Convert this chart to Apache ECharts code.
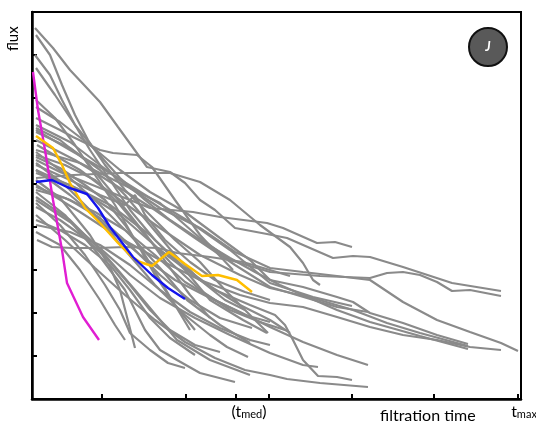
<!DOCTYPE html>
<html>
<head>
<meta charset="utf-8">
<script src="https://cdn.jsdelivr.net/npm/echarts@6/dist/echarts.min.js"></script>
<style>
  html, body { margin: 0; padding: 0; background: #fff; }
  #chart { width: 536px; height: 424px; }
</style>
</head>
<body>
<div id="chart"></div>
<script>
// filtration runs, [time, flux] in arbitrary units (time 0..489, flux 0..387)
const grayRuns = [
  [[3,371],[21,351],[38,329],[68,297],[86,272],[115,232],[138,227],[153,216],[168,199],[183,189],[203,171],[235,165],[255,161],[301,141],[321,143],[338,142],[371,132],[420,116],[469,108]],
  [[4,364],[18,344],[30,314],[43,284],[56,259],[73,234],[93,209],[118,184],[143,159],[168,137],[193,109],[218,84],[236,66]],
  [[3,344],[18,324],[30,299],[43,274],[58,249],[78,219],[98,189],[123,159],[153,131],[183,109],[218,94],[243,84],[253,74],[261,59],[271,39],[286,23],[305,22],[320,19]],
  [[4,331],[23,304],[43,274],[63,249],[88,221],[113,199],[138,179],[168,159],[198,141],[223,127],[248,114],[305,89],[338,77],[388,63],[436,50]],
  [[4,292],[28,277],[58,254],[88,229],[118,207],[153,187],[188,161],[218,139],[238,119],[271,112],[305,102],[321,97],[338,86],[371,76],[405,64],[436,55]],
  [[4,249],[48,236],[88,216],[128,196],[168,161],[198,139],[238,127],[288,123],[338,121],[355,126],[371,127],[388,124],[405,117],[420,108],[438,109],[469,103]],
  [[4,239],[28,227],[68,211],[98,199],[118,191],[161,187],[188,182],[235,176],[251,171],[285,156],[303,157],[320,152]],
  [[4,274],[38,257],[68,234],[98,211],[128,191],[168,171],[203,147],[238,131],[271,127],[305,123],[338,119],[371,97],[405,79],[438,67],[469,56],[486,48]],
  [[4,214],[48,187],[88,161],[128,139],[168,119],[208,104],[238,96],[271,92],[305,82],[338,72],[371,64],[405,59],[438,52],[469,49]],
  [[4,269],[38,249],[78,226],[118,201],[158,177],[198,149],[238,116],[281,102],[320,93]],
  [[4,259],[43,239],[83,214],[123,189],[163,161],[203,134],[238,112],[305,92],[336,87]],
  [[5,254],[48,229],[88,199],[128,171],[168,144],[208,124],[238,111],[281,101],[321,89],[355,76],[388,66],[436,53]],
  [[4,229],[38,204],[73,174],[108,144],[143,119],[178,101],[208,87],[238,72],[271,57],[305,44],[336,34]],
  [[4,199],[38,177],[68,151],[98,124],[128,101],[163,81],[198,64],[238,46],[271,34],[286,32]],
  [[4,184],[33,159],[63,131],[93,104],[123,79],[153,57],[183,41],[213,29],[238,24],[255,20],[288,16],[336,12]],
  [[5,159],[20,152],[40,151],[66,151],[93,152],[126,151],[145,146],[178,142],[211,137],[258,123]],
  [[4,196],[28,174],[53,144],[73,114],[88,89],[98,66],[118,49],[136,36],[153,31]],
  [[4,219],[28,201],[58,164],[78,132],[88,109],[95,82],[103,51]],
  [[4,207],[33,184],[63,149],[93,109],[113,69],[128,49],[145,39],[168,26],[203,17]],
  [[4,202],[38,179],[73,144],[103,109],[128,79],[145,59],[178,39],[218,24]],
  [[4,247],[38,221],[68,194],[98,164],[128,131],[155,99],[188,74],[218,56]],
  [[4,236],[33,214],[63,184],[93,149],[123,114],[153,84],[178,64],[195,52],[216,42]],
  [[4,212],[38,199],[68,181],[98,154],[128,124],[158,99],[188,81],[220,71]],
  [[4,226],[38,214],[78,194],[118,164],[153,129],[178,99],[211,79],[235,66]],
  [[4,281],[28,269],[41,262],[68,249],[81,246],[105,244],[120,232],[143,199],[168,164],[201,129]],
  [[4,221],[41,224],[88,226],[138,226],[168,217],[198,199],[228,174],[258,152],[271,136],[281,119],[288,114]],
  [[4,299],[23,281],[43,254],[63,224],[83,194],[103,159],[123,124],[143,94],[163,69]],
  [[4,271],[28,259],[53,239],[78,209],[98,184],[118,159],[138,131],[158,104],[178,81]],
  [[4,267],[38,251],[68,229],[93,204],[118,174],[143,144],[168,119],[193,99],[213,89]],
  [[4,244],[33,234],[63,219],[88,194],[113,164],[138,137],[168,109],[198,89],[228,77],[253,69]],
  [[4,242],[28,231],[53,214],[73,199],[93,174],[113,144],[128,119],[143,94],[158,69]],
  [[4,234],[38,219],[68,204],[93,194],[103,204],[113,184],[133,159],[158,137],[183,119],[213,107],[238,99]],
  [[4,209],[33,201],[63,187],[93,169],[123,144],[153,117],[183,99],[213,84],[238,77]],
  [[4,192],[28,179],[53,161],[78,137],[98,114],[118,89],[138,69],[163,54],[188,47]],
  [[4,179],[28,169],[53,154],[78,134],[98,109],[118,81],[138,61],[163,44]],
  [[4,174],[38,167],[68,154],[98,134],[128,109],[158,87],[188,71],[218,59],[238,54]],
  [[4,167],[28,154],[48,129],[68,99],[83,74],[93,59]],
  [[4,229],[48,209],[88,184],[128,149],[168,119],[208,94],[238,79],[258,66]]
];
const magentaRun = [[1,327],[6,289],[13,249],[21,199],[30,149],[35,116],[43,99],[51,82],[67,59]];
const yellowRun = [[4,263],[21,251],[30,234],[38,216],[53,191],[68,176],[86,156],[100,142],[108,137],[120,133],[137,147],[153,135],[170,123],[186,124],[205,119],[220,107]];
const blueRun = [[4,217],[20,219],[35,212],[55,205],[66,191],[78,172],[101,142],[120,124],[136,111],[153,100]];

const xTicks = [70, 154, 204, 237, 320, 402, 486];
const tMedLabel = 217;
const tMaxLabel = 486;

const chart = echarts.init(document.getElementById('chart'));
const font = 'Lato, "Open Sans", sans-serif';

const series = grayRuns.map(run => ({
  type: 'line', data: run, showSymbol: false, silent: true, z: 2,
  lineStyle: { color: '#8a8a8a', width: 2.2 }
}));
[[magentaRun, '#E01ED2'], [yellowRun, '#FFBE00'], [blueRun, '#1414EE']].forEach(([run, c]) => {
  series.push({
    type: 'line', data: run, showSymbol: false, silent: true, z: 3,
    lineStyle: { color: c, width: 2.4 }
  });
});

chart.setOption({
  animation: false,
  grid: {
    left: 32, top: 12, width: 489, height: 387, outerBoundsMode: 'none',
    show: true, borderColor: '#000', borderWidth: 2
  },
  xAxis: {
    type: 'value', min: 0, max: 489,
    splitLine: { show: false },
    axisLine: { lineStyle: { color: '#000', width: 2.5 } },
    axisTick: { inside: true, length: 5, customValues: xTicks, lineStyle: { color: '#000', width: 2 } },
    axisLabel: {
      customValues: [tMedLabel, tMaxLabel], margin: 3, color: '#000', fontFamily: font,
      formatter: v => v === tMedLabel ? '{a|(t}{b|med}{a|)}' : '{gap|}{a|t}{b|max}',
      rich: {
        gap: { width: 12 },
        a: { fontSize: 16, fontFamily: font, color: '#000', lineHeight: 18, verticalAlign: 'bottom' },
        b: { fontSize: 11, fontFamily: font, color: '#000', lineHeight: 12, verticalAlign: 'bottom' }
      }
    }
  },
  yAxis: {
    type: 'value', min: 0, max: 387, interval: 43,
    splitLine: { show: false },
    axisLine: { lineStyle: { color: '#000', width: 2.5 } },
    axisTick: { inside: true, length: 5, lineStyle: { color: '#000', width: 2 } },
    axisLabel: { show: false }
  },
  graphic: [
    { type: 'text', left: 380, top: 408, style: { text: 'filtration time', font: '16px ' + font, fill: '#000' } },
    { type: 'text', x: 6, y: 51, rotation: Math.PI / 2, style: { text: 'flux', font: '15px ' + font, fill: '#000' } },
    { type: 'circle', shape: { cx: 488, cy: 47, r: 19 }, style: { fill: '#595959', stroke: '#111', lineWidth: 2 } },
    { type: 'text', x: 488, y: 47, style: { text: 'J', font: 'italic bold 13px ' + font, fill: '#fff', align: 'center', verticalAlign: 'middle' } }
  ],
  series: series
});
</script>
</body>
</html>
